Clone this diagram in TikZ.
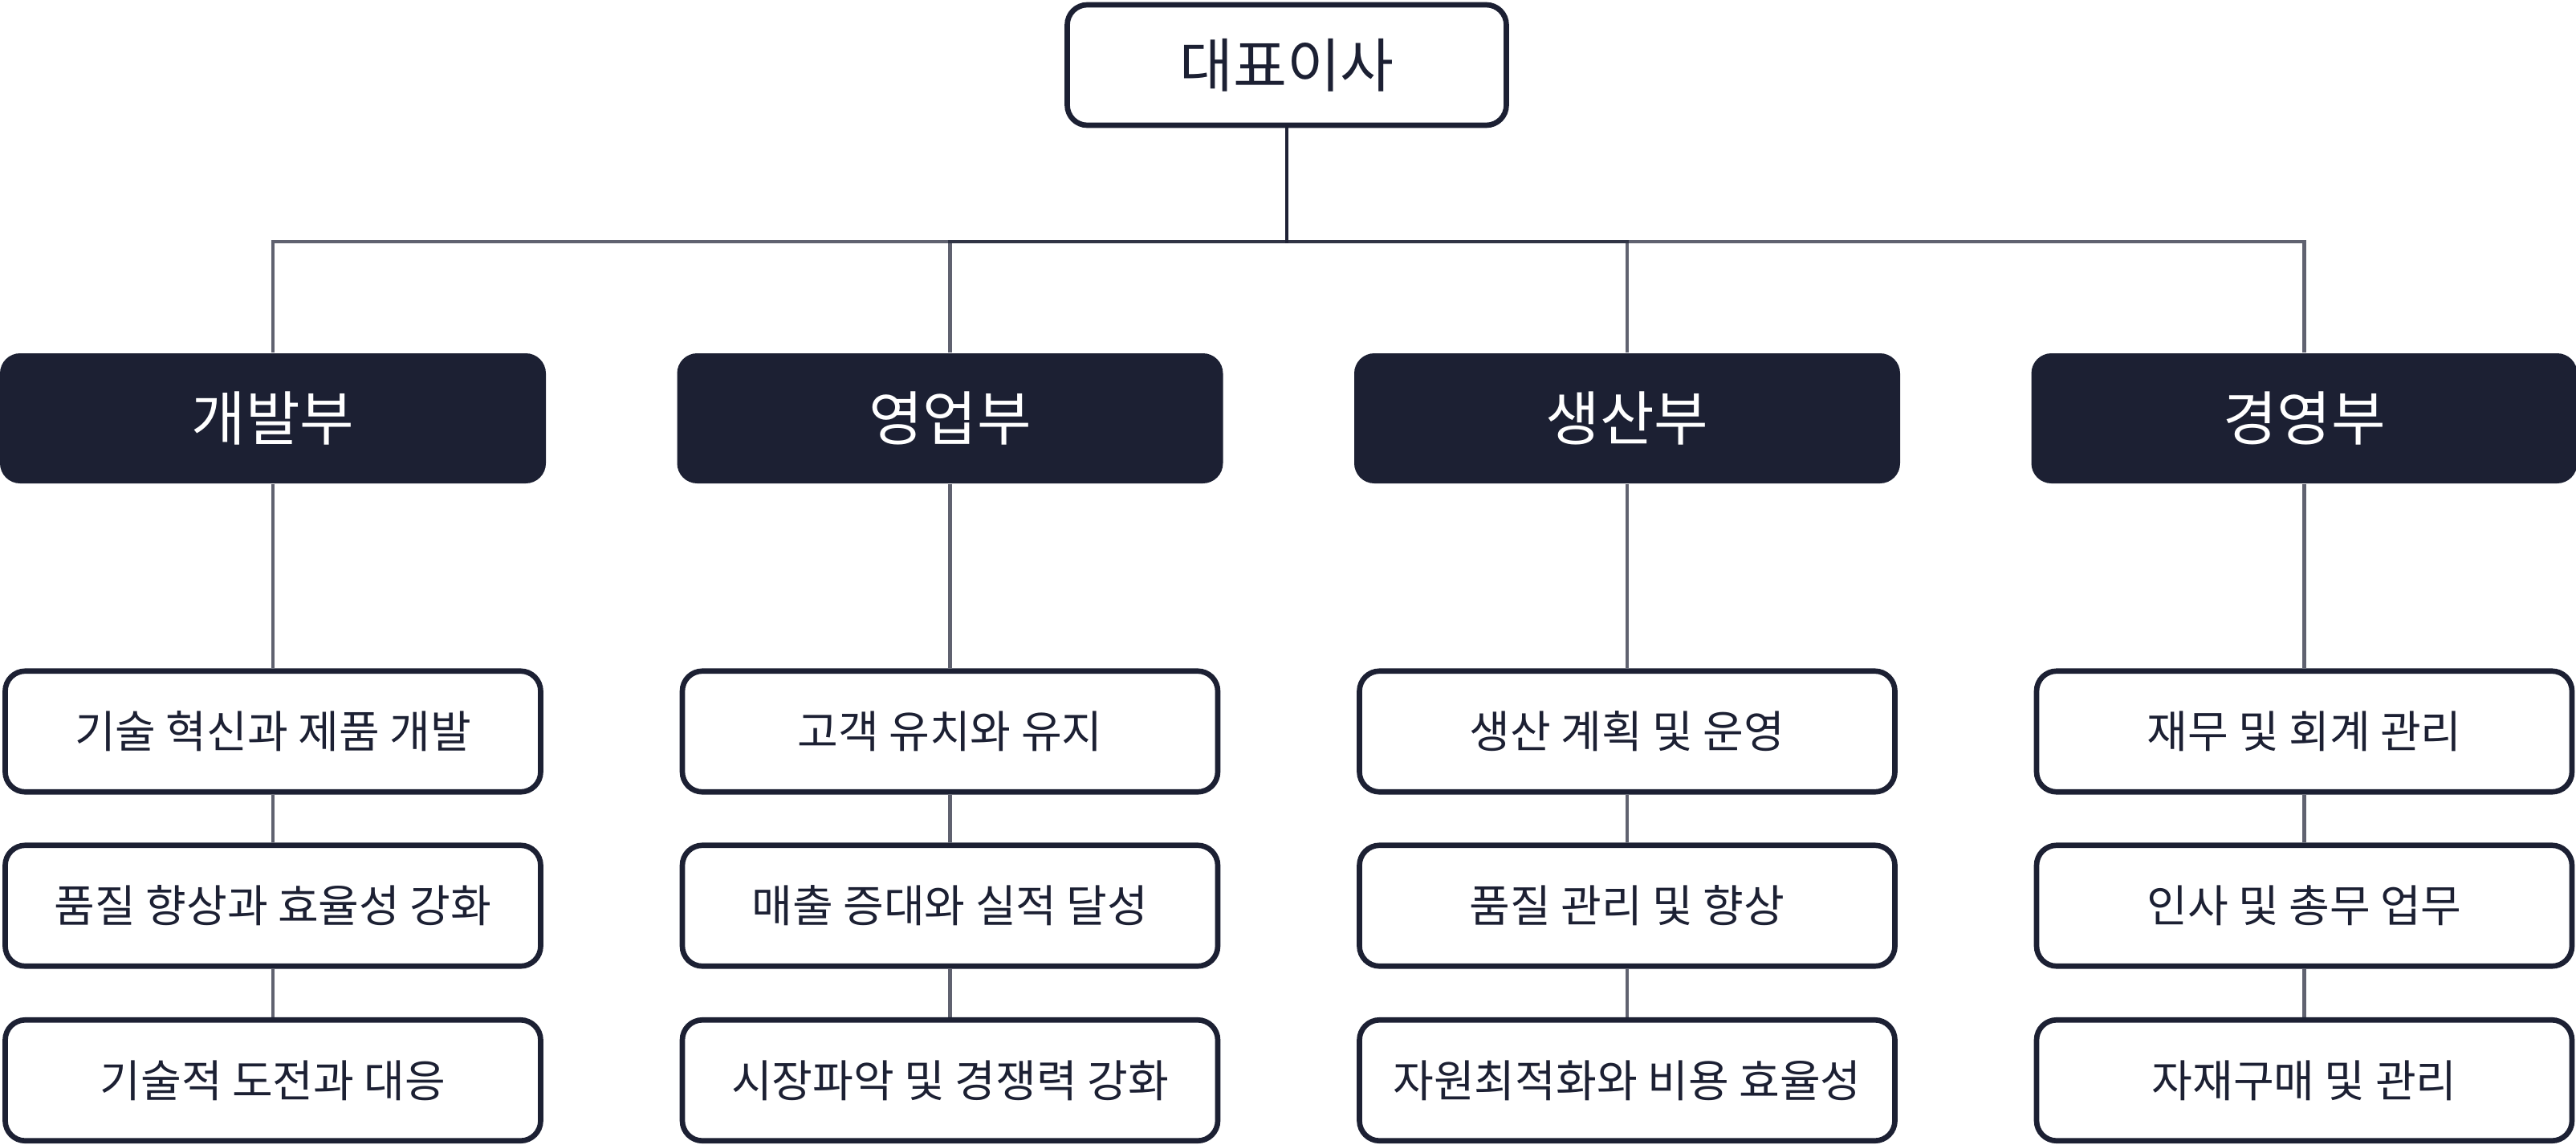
\documentclass[tikz,border=0pt]{standalone}
\usepackage{fontspec}
\usepackage{xcolor}
\usepackage{tikz}
\setmainfont{Noto Sans CJK KR}
\definecolor{navy}{HTML}{1C2033}

\tikzset{
  ceobox/.style={draw=navy, line width=1.9pt, rounded corners=0.25cm, fill=white,
    minimum width=5.47cm, minimum height=1.5cm, text=navy,
    font=\fontsize{20.7}{24}\selectfont},
  deptbox/.style={fill=navy, rounded corners=0.25cm,
    minimum width=6.8cm, minimum height=1.62cm, text=white,
    font=\fontsize{20.9}{24}\selectfont},
  taskbox/.style={draw=navy, line width=1.9pt, rounded corners=0.25cm, fill=white,
    minimum width=6.67cm, minimum height=1.505cm, text=navy,
    font=\fontsize{15.7}{19}\selectfont},
  link/.style={draw=navy, draw opacity=0.7, line width=1.2pt}
}

\begin{document}
\begin{tikzpicture}
                \useasboundingbox (0,0) rectangle (32.09,-14.26);
                % CEO
                \node[ceobox] (ceo) at (16.03,-0.81) {대표이사};
                \coordinate (bus) at (16.03,-3.01);
                % departments and their tasks
                \foreach \d/\a/\b/\c [count=\i] in {
                    개발부/기술 혁신과 제품 개발/품질 향상과 효율성 강화/기술적 도전과 대응,
                    영업부/고객 유치와 유지/매출 증대와 실적 달성/시장파악 및 경쟁력 강화,
                    생산부/생산 계획 및 운영/품질 관리 및 향상/자원최적화와 비용 효율성,
                    경영부/재무 및 회계 관리/인사 및 총무 업무/자재구매 및 관리} {
                    \pgfmathsetmacro{\x}{3.40+(\i-1)*8.435}
                    \node[deptbox] (d\i) at (\x,-5.21) {\d};
                    \node[taskbox] (t\i-1) at (\x,-9.11) {\a};
                    \node[taskbox] (t\i-2) at (\x,-11.28) {\b};
                    \node[taskbox] (t\i-3) at (\x,-13.455) {\c};
                    \draw[link] (ceo.south) -- (bus) -| (d\i.north);
                    \draw[link] (d\i.south) -- (t\i-1.north);
                    \draw[link] (t\i-1.south) -- (t\i-2.north);
                    \draw[link] (t\i-2.south) -- (t\i-3.north);
                }
            \end{tikzpicture}
\end{document}
